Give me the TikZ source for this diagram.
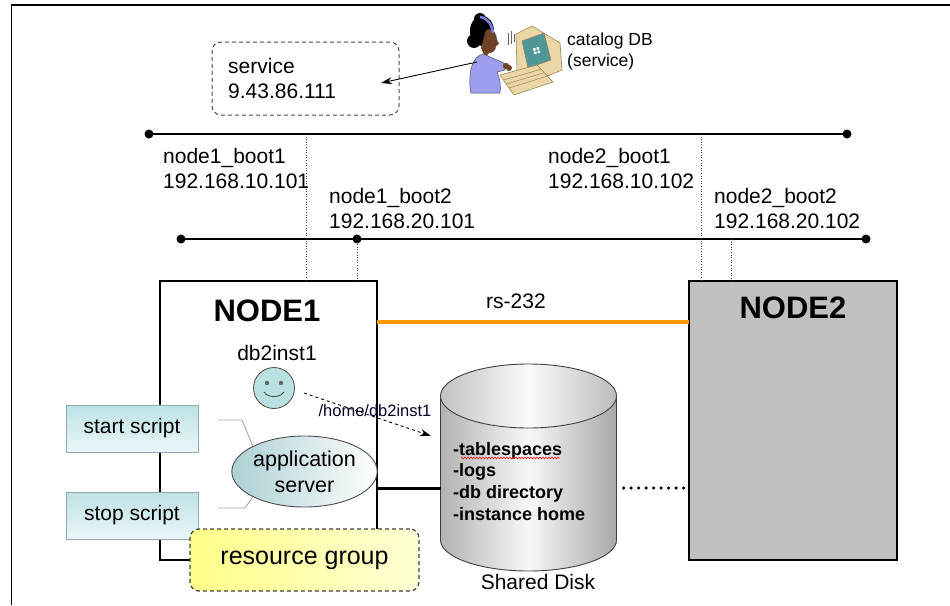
\documentclass[tikz,border=0pt]{standalone}
\usepackage{fontspec}
\setmainfont{Liberation Sans}
\usetikzlibrary{arrows.meta,decorations.pathmorphing,shapes.geometric,calc}
\definecolor{cyanbox}{HTML}{BCE2E6}
\definecolor{cyanedge}{HTML}{8FA9AC}
\definecolor{nodegray}{HTML}{C0C0C0}
\definecolor{rsorange}{HTML}{FF9900}
\definecolor{rgyellow}{HTML}{FFFF88}
\definecolor{faceblue}{HTML}{B9E1E1}
\definecolor{beige}{HTML}{EBD7A6}
\definecolor{beigedark}{HTML}{9C8150}
\definecolor{screenteal}{HTML}{4F9696}
\definecolor{shirt}{HTML}{9D9EF0}
\definecolor{skin}{HTML}{6E4224}
\definecolor{band}{HTML}{7C7CDC}

\begin{document}
\begin{tikzpicture}[x=1pt,y=-1pt,
  lbl/.style={font=\fontsize{21}{25.5}\selectfont, align=left, inner sep=0pt, anchor=north west},
  bus/.style={line width=1.4pt},
  busdot/.style={fill=black},
  tap/.style={dotted, line width=0.6pt, black!75},
  hostbox/.style={draw, line width=1.1pt, anchor=north west, inner sep=0pt, outer sep=0pt},
  hosttitle/.style={font=\fontsize{31}{31}\selectfont\bfseries, inner sep=0pt},
  scriptbox/.style={draw=cyanedge, line width=0.9pt, top color=cyanbox, bottom color=cyanbox!30,
    minimum width=132pt, minimum height=47pt, inner sep=0pt, outer sep=0pt,
    font=\fontsize{21}{25}\selectfont},
  conn/.style={draw=black!35, line width=0.9pt},
  arrowtip/.style={-{Stealth[length=11pt,width=7pt]}},
  dashbox/.style={draw=black!70, dash pattern=on 4pt off 3pt, line width=1pt, rounded corners=9pt,
    inner sep=0pt, outer sep=0pt}
]
\useasboundingbox (0,0) rectangle (950,605);

% frame
\draw[line width=1.4pt] (950,5) -- (11.5,5) -- (11.5,605);

% public network and private network
\coordinate (bA1) at (149,134);
\coordinate (bA2) at (847,134);
\coordinate (bB1) at (181,239);
\coordinate (bB2) at (866,239);
\coordinate (t11) at (306,134);
\coordinate (t12) at (357,239);
\coordinate (t21) at (701,134);
\coordinate (t22) at (731,239);
\draw[bus] (bA1) -- (bA2);
\draw[bus] (bB1) -- (bB2);
\foreach \p in {bA1,bA2,bB1,bB2,t12} \fill[busdot] (\p) circle[radius=4.5pt];

% host boxes
\node[hostbox, minimum width=217pt, minimum height=279pt] (n1) at (160,281) {};
\node[hostbox, fill=nodegray, minimum width=208pt, minimum height=279pt] (n2) at (689,281) {};
\node[hosttitle] (n1t) at (267,311) {NODE1};
\node[hosttitle] (n2t) at (793,308) {NODE2};

% adapter taps
\draw[tap] (t11) -- (t11 |- n1.north);
\draw[tap] (t12) -- (t12 |- n1.north);
\draw[tap] (t21) -- (t21 |- n2.north);
\draw[tap] (t22) -- (t22 |- n2.north);

% adapter labels
\node[lbl] (l11) at (163,148) {node1\_boot1\\192.168.10.101};
\node[lbl] (l21) at (548,148) {node2\_boot1\\192.168.10.102};
\node[lbl] (l12) at (329,188) {node1\_boot2\\192.168.20.101};
\node[lbl] (l22) at (714,188) {node2\_boot2\\192.168.20.102};

% serial heartbeat link
\coordinate (rsl) at (0,322);
\draw[rsorange, line width=3.5pt] (n1.east |- rsl) -- (n2.west |- rsl);
\node[font=\fontsize{21}{25}\selectfont, inner sep=0pt] (rs) at (516,301) {rs-232};

% shared disk
\node[minimum width=176pt, minimum height=144pt, inner sep=0pt, outer sep=0pt] (disk) at (528.5,468) {};
\shade[left color=black!30, right color=black!34, middle color=black!3, draw=black!75, line width=0.9pt]
  (440.5,396) -- (440.5,540) arc[start angle=180, end angle=360, x radius=88pt, y radius=31pt]
  -- (616.5,396) -- cycle;
\shade[left color=black!24, right color=black!26, middle color=black!2, draw=black!75, line width=0.9pt]
  (528.5,396) ellipse[x radius=88pt, y radius=32pt];
\node[font=\fontsize{18}{21.7}\selectfont\bfseries, align=left, inner sep=0pt, anchor=north west] (dtxt)
  at (453,442) {-tablespaces\\-logs\\-db directory\\-instance home};
\draw[red, line width=0.5pt, decorate, decoration={snake, amplitude=0.9pt, segment length=3pt}]
  (461,458) -- (560,458);
\node[font=\fontsize{21}{25}\selectfont, inner sep=0pt] (dlbl) at (538,582) {Shared Disk};

% disk attachments
\coordinate (lvl) at (0,488);
\draw[line width=3pt] (n1.east |- lvl) -- (disk.west |- lvl);
\draw[line width=3.5pt, line cap=round, dash pattern=on 0pt off 7.5pt] (disk.east |- lvl) ++(7,0) -- (n2.west |- lvl);

% instance owner
\node[font=\fontsize{21}{25}\selectfont, inner sep=0pt] (owner) at (277,353) {db2inst1};
\node[circle, draw=black!70, line width=0.8pt, fill=faceblue, minimum size=41pt, inner sep=0pt] (me) at (274,388) {};
\fill[black!60] ($(me)+(-7,-5)$) circle[radius=2.2pt] ($(me)+(7,-5)$) circle[radius=2.2pt];
\draw[black!70, line width=0.9pt] ($(me)+(-10,4)$) arc[start angle=200, end angle=340, x radius=10.6pt, y radius=7pt];
\coordinate (h0) at (304,393);
\coordinate (h1) at (431,436);
\draw[arrowtip, dashed, line width=0.9pt] (h0) -- (h1);
\node[font=\fontsize{16.5}{20}\selectfont, inner sep=0pt, text=black!85!blue] (hlbl) at (375,411) {/home/db2inst1};

% application server and its scripts
\node[ellipse, draw=black!70, line width=0.9pt, left color=cyanbox!92!black, right color=white,
  minimum width=125pt, minimum height=71pt, inner sep=0pt, align=center,
  font=\fontsize{21.5}{26}\selectfont] (app) at (304.5,471.5) {application\\server};
\node[scriptbox] (start) at (132,428.5) {start script};
\node[scriptbox] (stop) at (132,515.5) {stop script};
\coordinate (gs1) at (218,420);
\coordinate (gs2) at (218,508);
\draw[conn] (gs1) -- ++(24,0) -- (app.north west);
\draw[conn] (gs2) -- ++(27,0) -- (app.south west);

% resource group
\node[dashbox, draw=black!75, line width=1.2pt, left color=rgyellow, right color=rgyellow!35,
  minimum width=229pt, minimum height=62pt, font=\fontsize{25}{30}\selectfont] (rg) at (304.5,560) {resource group};

% service address
\node[dashbox, minimum width=187pt, minimum height=73pt, anchor=north west] (svc) at (212,42) {};
\node[lbl] (svct) at (228,58) {service\\9.43.86.111};
\coordinate (svcin) at (381,83);

% client workstation
\fill[black] (482,31) ellipse[x radius=12pt, y radius=15pt];
\fill[black] (474,41) circle[radius=7pt];
\fill[black] (480,19) circle[radius=6pt];
\fill[skin] (486,30) .. controls (494,27) and (497,35) .. (497,40) -- (499,44) -- (496,46)
  .. controls (496,50) and (493,53) .. (489,53) -- (485,57) -- (481,48) -- cycle;
\draw[band, line width=2.6pt] (480,17) .. controls (488,18) and (492,25) .. (493,33);
\filldraw[fill=shirt, draw=black!70, line width=0.5pt]
  (480,55) .. controls (470,60) and (468,80) .. (471,93) -- (500,93)
  .. controls (501,86) and (500,78) .. (497,72) -- (505,70) -- (504,63) -- (490,57)
  .. controls (487,55) and (483,54) .. (480,55) -- cycle;
\fill[skin] (506,66) circle[radius=3.2pt];
\filldraw[fill=beige, draw=beigedark, line width=0.6pt]
  (516,34) -- (532,26) -- (560,43) -- (562,70) -- (540,79) -- (517,72) -- cycle;
\filldraw[fill=screenteal, draw=beigedark, line width=0.5pt]
  (522,41) -- (544,33) -- (551,60) -- (528,68) -- cycle;
\fill[white] (533,48) rectangle (535.5,50.5) (536.5,47) rectangle (539,49.5)
  (534,51.5) rectangle (536.5,54) (537.5,50.5) rectangle (540,53);
\filldraw[fill=beige, draw=beigedark, line width=0.6pt]
  (500,75) -- (537,65) -- (553,82) -- (514,95) -- cycle;
\foreach \k in {0.25,0.45,0.65}
  \draw[beigedark, line width=0.5pt] ($(500,75)!\k!(514,95)$) -- ($(537,65)!\k!(553,82)$);
\draw[black!60, line width=0.5pt] (508,33) -- (508,45) (511,31) -- (511,44) (514,34) -- (514,42);
\fill[skin] (509,68) circle[radius=3pt];
\coordinate (user) at (477,62);
\draw[arrowtip, line width=0.9pt] (user) -- (svcin);
\node[font=\fontsize{17.5}{21}\selectfont, align=left, inner sep=0pt, anchor=north west] (cat)
  at (567,33) {catalog DB\\(service)};

\end{tikzpicture}
\end{document}
